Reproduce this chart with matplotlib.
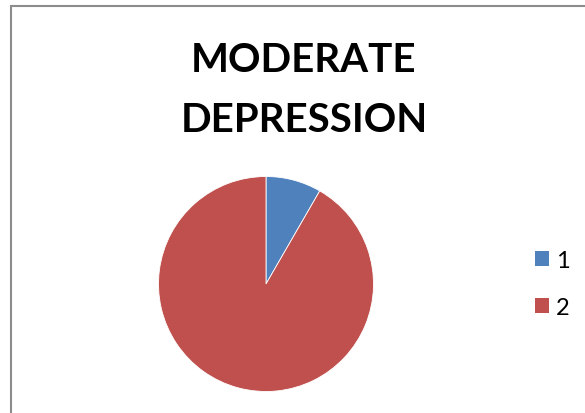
import matplotlib.pyplot as plt
from matplotlib.patches import Rectangle, Patch

labels = ['1', '2']
values = [1, 11]
colors = ['#4F81BD', '#C0504D']
title_lines = ['MODERATE', 'DEPRESSION']

W, H = 585, 414
fig = plt.figure(figsize=(W / 100, H / 100), dpi=100)

# chart frame, only left and top edges fall inside the image
fig.patches.append(Rectangle((11 / W, -0.1), 2.0, 1 - 7 / H + 0.1,
                             transform=fig.transFigure, fill=False,
                             edgecolor='#8C8C8C', linewidth=1.5))

r = 107.5
cx, cy = 266, 285
ax = fig.add_axes([(cx - r) / W, 1 - (cy + r) / H, 2 * r / W, 2 * r / H])
ax.pie(values, colors=colors, startangle=90, counterclock=False,
       wedgeprops=dict(edgecolor='white', linewidth=0.6), radius=1)
ax.set_xlim(-1, 1)
ax.set_ylim(-1, 1)
ax.set_aspect('equal')
ax.axis('off')

# two title lines placed by their baselines
for line, base in zip(title_lines, [72, 132]):
    fig.text(304 / W, 1 - base / H, line, ha='center', va='baseline',
             fontsize=29, fontweight='bold', family='Lato')

handles = [Patch(facecolor=c, edgecolor='none') for c in colors]
fig.legend(handles, labels, loc='center left',
           bbox_to_anchor=(535 / W, 1 - 285 / H), frameon=False,
           borderpad=0, borderaxespad=0,
           handlelength=0.6, handleheight=0.6,
           handletextpad=0.3, labelspacing=1.1,
           prop={'family': 'Lato', 'size': 17})

fig.savefig('out.png', dpi=100)
